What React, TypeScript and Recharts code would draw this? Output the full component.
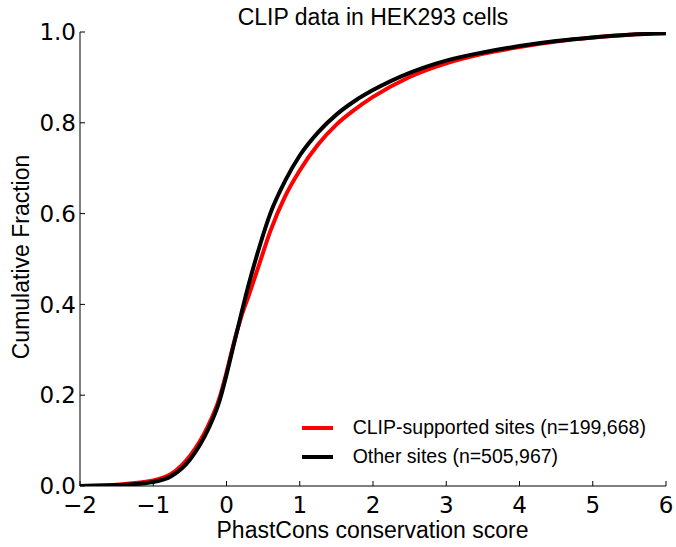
import React from 'react';
import { LineChart, Line, XAxis, YAxis, Legend } from 'recharts';

const scores = [-2, -1.5, -1, -0.75, -0.5, -0.25, -0.1, 0, 0.1, 0.2, 0.3, 0.45, 0.6, 0.8, 1.0, 1.25, 1.5, 1.75, 2.0, 2.5, 3.0, 3.5, 4.0, 4.5, 5.0, 5.5, 6.0];
const clipSupported = [0.0, 0.003, 0.012, 0.027, 0.066, 0.133, 0.192, 0.25, 0.315, 0.372, 0.418, 0.49, 0.562, 0.638, 0.695, 0.752, 0.796, 0.829, 0.857, 0.901, 0.931, 0.952, 0.967, 0.979, 0.988, 0.994, 0.997];
const otherSites = [0.0, 0.002, 0.009, 0.022, 0.058, 0.125, 0.185, 0.245, 0.312, 0.378, 0.442, 0.527, 0.601, 0.672, 0.728, 0.779, 0.818, 0.848, 0.872, 0.91, 0.937, 0.955, 0.969, 0.98, 0.988, 0.994, 0.997];

const xTicks = [-2, -1, 0, 1, 2, 3, 4, 5, 6];
const yTicks = [0, 0.2, 0.4, 0.6, 0.8, 1.0];

const seriesNames = ['CLIP-supported sites (n=199,668)', 'Other sites (n=505,967)'];
const titleText = 'CLIP data in HEK293 cells';
const xLabelText = 'PhastCons conservation score';
const yLabelText = 'Cumulative Fraction';

const data = scores.map((s, i) => ({ score: s, clip: clipSupported[i], other: otherSites[i] }));

const labelFont = '"Liberation Sans", Arial, sans-serif';
const tickFont = '"DejaVu Sans", sans-serif';

const fmtX = (v: number) => (v < 0 ? '\u2212' + Math.abs(v) : String(v));
const fmtY = (v: number) => v.toFixed(1);

const renderLegend = (props: any) => {
  const payload = props.payload || [];
  return (
    <div style={{ fontFamily: labelFont, fontSize: 19.5, color: '#000' }}>
      {payload.map((p: any, i: number) => (
        <div key={i} style={{ display: 'flex', alignItems: 'center', height: 28.7 }}>
          <svg width={31} height={6} style={{ display: 'block' }}>
            <line x1={0} y1={3} x2={31} y2={3} stroke={p.color} strokeWidth={4} />
          </svg>
          <span style={{ marginLeft: 20, whiteSpace: 'nowrap' }}>{p.value}</span>
        </div>
      ))}
    </div>
  );
};

export default function App() {
  return (
    <div style={{ position: 'absolute', left: 0, top: 0, width: 676, height: 547, background: '#fff' }}>
      <LineChart width={676} height={547} data={data} margin={{ top: 32, right: 10, bottom: 21, left: 20 }}>
        <XAxis
          dataKey="score"
          type="number"
          domain={[-2, 6]}
          ticks={xTicks}
          allowDataOverflow
          tickFormatter={fmtX}
          height={40}
          tickSize={-5}
          tickMargin={16}
          axisLine={{ stroke: '#000', strokeWidth: 1 }}
          tickLine={{ stroke: '#000' }}
          tick={{ fill: '#000', fontSize: 23, fontFamily: tickFont }}
          interval={0}
        />
        <XAxis
          xAxisId="top"
          orientation="top"
          type="number"
          domain={[-2, 6]}
          ticks={xTicks}
          allowDataOverflow
          height={0}
          tickSize={-5}
          tick={false}
          axisLine={{ stroke: '#000', strokeWidth: 1 }}
          tickLine={{ stroke: '#000' }}
          interval={0}
        />
        <YAxis
          type="number"
          domain={[0, 1]}
          ticks={yTicks}
          allowDataOverflow
          tickFormatter={fmtY}
          width={60}
          tickSize={-5}
          tickMargin={9}
          axisLine={{ stroke: '#000', strokeWidth: 1 }}
          tickLine={{ stroke: '#000' }}
          tick={{ fill: '#000', fontSize: 23, fontFamily: tickFont }}
          interval={0}
        />
        <YAxis
          yAxisId="right"
          orientation="right"
          type="number"
          domain={[0, 1]}
          ticks={yTicks}
          allowDataOverflow
          width={0}
          tickSize={-5}
          tick={false}
          axisLine={{ stroke: '#000', strokeWidth: 1 }}
          tickLine={{ stroke: '#000' }}
          interval={0}
        />
        <Line
          type="monotone"
          dataKey="clip"
          name={seriesNames[0]}
          stroke="#ff0000"
          strokeWidth={4}
          dot={false}
          activeDot={false}
          isAnimationActive={false}
        />
        <Line
          type="monotone"
          dataKey="other"
          name={seriesNames[1]}
          stroke="#000000"
          strokeWidth={4}
          dot={false}
          activeDot={false}
          isAnimationActive={false}
        />
        <Legend
          layout="horizontal"
          verticalAlign="middle"
          align="center"
          content={renderLegend}
          wrapperStyle={{ position: 'absolute', left: 301.7, top: 413.6, width: 370, height: 58 }}
        />
        <text x={373} y={25} textAnchor="middle" fontFamily={labelFont} fontSize={23} fill="#000">
          {titleText}
        </text>
        <text x={372.5} y={537.7} textAnchor="middle" fontFamily={labelFont} fontSize={23} fill="#000">
          {xLabelText}
        </text>
        <text
          x={28.5}
          y={257}
          textAnchor="middle"
          fontFamily={labelFont}
          fontSize={23}
          fill="#000"
          transform="rotate(-90, 28.5, 257)"
        >
          {yLabelText}
        </text>
      </LineChart>
    </div>
  );
}
